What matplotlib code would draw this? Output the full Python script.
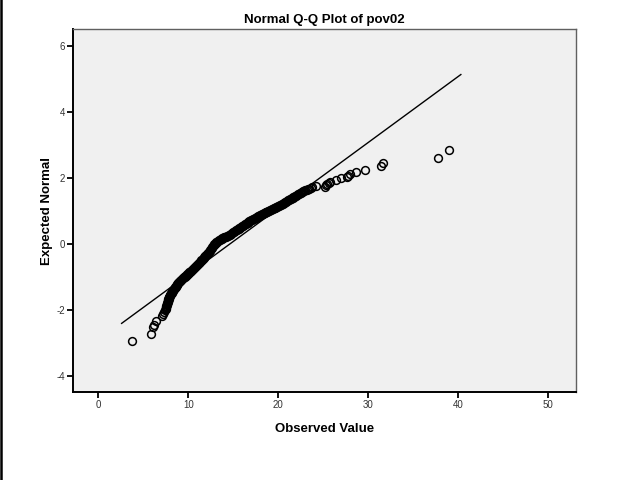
import matplotlib
matplotlib.use("Agg")
import matplotlib.pyplot as plt
from matplotlib.lines import Line2D

plt.rcParams['font.family'] = ['Liberation Sans', 'DejaVu Sans']
plt.rcParams['axes.unicode_minus'] = False

# observed values (pov02) and expected normal scores, read off the plot
# low tail
low_obs = [3.8, 5.9, 6.1, 6.2, 6.4, 7.1, 7.2, 7.3, 7.4]
low_exp = [-2.93, -2.72, -2.50, -2.46, -2.32, -2.17, -2.12, -2.05, -2.00]

# dense band
band_obs = [7.50, 7.52, 7.55, 7.58, 7.60, 7.62, 7.65, 7.68, 7.70, 7.72, 7.75, 7.78,
            7.80, 7.82, 7.85, 7.88, 7.90, 7.95, 8.00, 8.02, 8.05, 8.10, 8.15, 8.20,
            8.25, 8.30, 8.35, 8.40, 8.45, 8.50, 8.55, 8.60, 8.65, 8.70, 8.75, 8.80,
            8.85, 8.90, 8.95, 9.00, 9.05, 9.10, 9.15, 9.22, 9.30,
            9.37, 9.45, 9.52, 9.60, 9.68, 9.75, 9.82, 9.90, 9.97, 10.05, 10.12, 10.20,
            10.27, 10.35, 10.42, 10.50, 10.57, 10.65, 10.72, 10.80, 10.87, 10.95, 11.02,
            11.10, 11.17, 11.25, 11.32, 11.40, 11.47, 11.55, 11.62, 11.70, 11.77, 11.85,
            11.92, 12.00, 12.07, 12.15, 12.22, 12.30, 12.37, 12.45, 12.52, 12.60, 12.67,
            12.75, 12.82, 12.90, 12.97, 13.05, 13.12, 13.20, 13.30, 13.40, 13.50, 13.60,
            13.70, 13.80, 13.90, 14.00,
            14.1, 14.2, 14.3, 14.4, 14.5, 14.6, 14.7, 14.8, 14.9, 15.0, 15.1, 15.2, 15.3,
            15.4, 15.5, 15.6, 15.7, 15.8, 15.9, 16.0, 16.1, 16.2, 16.3, 16.4, 16.5, 16.6,
            16.7, 16.8, 16.9, 17.0, 17.1, 17.2, 17.3, 17.4, 17.5, 17.6, 17.7, 17.8, 17.9,
            18.0, 18.1, 18.2, 18.3, 18.4, 18.5, 18.6, 18.7, 18.8, 18.9, 19.0, 19.1, 19.2,
            19.3, 19.4, 19.5, 19.6, 19.7, 19.8, 19.9, 20.0, 20.1, 20.2, 20.3, 20.4, 20.5,
            20.6, 20.7, 20.8, 20.9, 21.0, 21.1, 21.2, 21.3, 21.4, 21.5, 21.6, 21.7, 21.8,
            21.9, 22.0, 22.1, 22.2, 22.3, 22.4, 22.5, 22.6, 22.7, 22.8, 22.9, 23.0,
            23.15, 23.3, 23.45, 23.6, 23.8]
band_exp = [-1.95, -1.92, -1.90, -1.87, -1.85, -1.82, -1.80, -1.78, -1.76, -1.73, -1.71,
            -1.69, -1.67, -1.65, -1.63, -1.61, -1.59, -1.57, -1.55, -1.53, -1.51, -1.49,
            -1.47, -1.45, -1.43, -1.41, -1.39, -1.37, -1.35, -1.33, -1.31, -1.29, -1.27,
            -1.25, -1.23, -1.21, -1.19, -1.17, -1.16, -1.14, -1.13, -1.11, -1.10, -1.08,
            -1.06,
            -1.04, -1.03, -1.01, -0.99, -0.97, -0.95, -0.93, -0.91, -0.89, -0.87, -0.85,
            -0.84, -0.82, -0.80, -0.78, -0.76, -0.74, -0.72, -0.70, -0.68, -0.66, -0.64,
            -0.62, -0.60, -0.58, -0.56, -0.54, -0.51, -0.49, -0.47, -0.45, -0.42, -0.40,
            -0.37, -0.35, -0.33, -0.31, -0.28, -0.26, -0.23, -0.20, -0.17, -0.15, -0.12,
            -0.09, -0.06, -0.04, -0.01, 0.02, 0.04, 0.06, 0.08, 0.10, 0.12, 0.14, 0.15,
            0.17, 0.18, 0.20, 0.21,
            0.22, 0.23, 0.25, 0.26, 0.28, 0.29, 0.31, 0.32, 0.34, 0.36, 0.38, 0.40, 0.42,
            0.43, 0.45, 0.47, 0.49, 0.50, 0.52, 0.54, 0.56, 0.58, 0.60, 0.62, 0.64, 0.65,
            0.67, 0.69, 0.71, 0.72, 0.74, 0.75, 0.77, 0.78, 0.80, 0.81, 0.83, 0.84, 0.86,
            0.87, 0.89, 0.90, 0.92, 0.93, 0.95, 0.96, 0.97, 0.98, 1.00, 1.01, 1.03, 1.04,
            1.06, 1.07, 1.09, 1.10, 1.11, 1.12, 1.14, 1.15, 1.17, 1.18, 1.20, 1.21, 1.23,
            1.24, 1.26, 1.27, 1.29, 1.31, 1.33, 1.34, 1.36, 1.37, 1.39, 1.41, 1.43, 1.44,
            1.46, 1.47, 1.49, 1.51, 1.53, 1.54, 1.56, 1.57, 1.59, 1.60, 1.62, 1.63,
            1.65, 1.66, 1.68, 1.70, 1.72]

# high tail
high_obs = [24.2, 25.2, 25.3, 25.4, 25.6, 25.8, 26.4, 27.0, 27.6, 27.8, 28.0, 28.7,
            29.7, 31.4, 31.6, 37.8, 39.0]
high_exp = [1.76, 1.74, 1.78, 1.81, 1.85, 1.89, 1.94, 1.99, 2.04, 2.08, 2.12, 2.19,
            2.26, 2.36, 2.46, 2.60, 2.86]

observed = low_obs + band_obs + high_obs
expected = low_exp + band_exp + high_exp

# reference line end points
line_obs = [2.6, 40.3]
line_exp = [-2.4, 5.14]

x_ticks = [0, 10, 20, 30, 40, 50]
y_ticks = [-4, -2, 0, 2, 4, 6]

fig = plt.figure(figsize=(6.21, 4.80), dpi=100)
ax = fig.add_axes([0.1176, 0.1833, 0.81, 0.7563])
ax.set_facecolor('#f0f0f0')

ax.plot(line_obs, line_exp, color='black', lw=1.0, zorder=2)
ax.plot(observed, expected, linestyle='none', marker='o', ms=5.6,
        mfc='none', mec='black', mew=1.1, zorder=3)

ax.set_xlim(-2.8, 53.1)
ax.set_ylim(-4.48, 6.52)
ax.set_xticks(x_ticks)
ax.set_yticks(y_ticks)
ax.tick_params(direction='out', length=4, width=1.3, color='black',
               labelsize=7, labelcolor='#333333', pad=2)

for side in ['left', 'bottom']:
    ax.spines[side].set_color('black')
    ax.spines[side].set_linewidth(1.4)
for side in ['top', 'right']:
    ax.spines[side].set_color('#606060')
    ax.spines[side].set_linewidth(1.0)

ax.set_xlabel('Observed Value', fontsize=9.5, fontweight='bold', labelpad=9)
ax.set_ylabel('Expected Normal', fontsize=9.5, fontweight='bold', labelpad=2)
ax.set_title('Normal Q-Q Plot of pov02', fontsize=9.5, fontweight='bold', pad=4)

# page border on the left side
fig.add_artist(Line2D([0.0015, 0.0015], [0, 1], color='black', lw=1.8,
                      transform=fig.transFigure))

fig.savefig('out.png', dpi=100)
